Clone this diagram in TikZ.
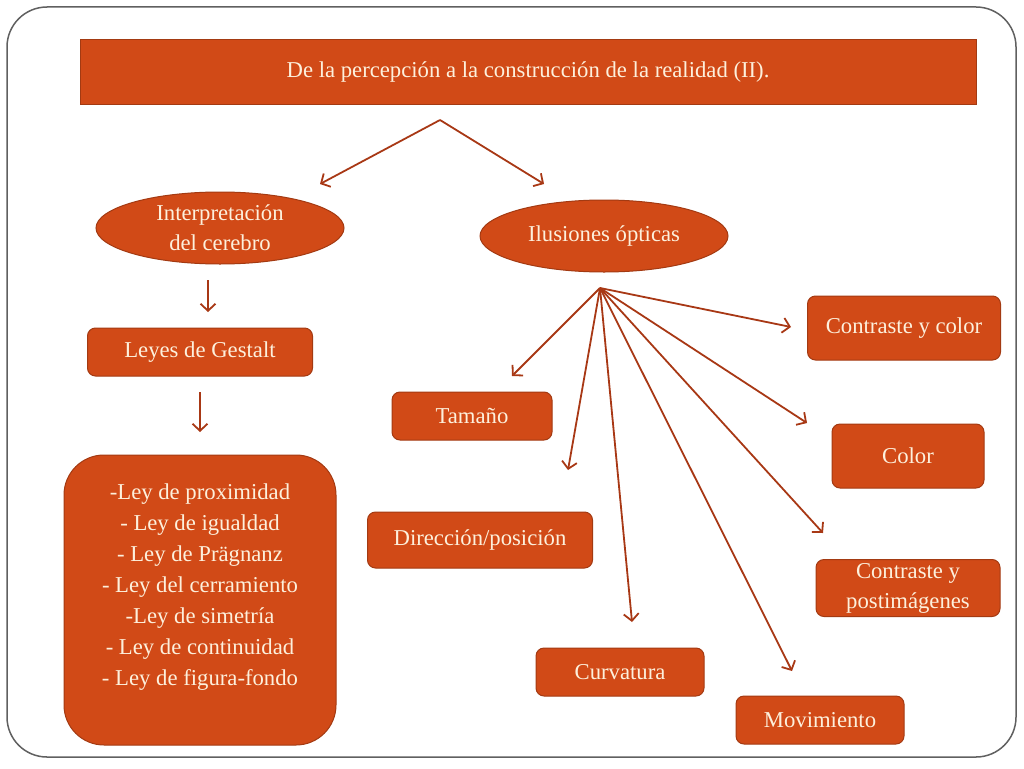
\documentclass[tikz,border=0pt]{standalone}
\usepackage{fontspec}
\setmainfont{Liberation Serif}
\usetikzlibrary{arrows.meta,shapes.geometric}
\definecolor{boxfill}{HTML}{D14A17}
\definecolor{boxline}{HTML}{A33A12}
\definecolor{boxtext}{HTML}{FDF0DC}
\definecolor{arrowcol}{HTML}{A83815}
\definecolor{framecol}{HTML}{606060}
\begin{document}
\begin{tikzpicture}[x=1pt,y=-1pt,
  txt/.style={text=boxtext,font=\fontsize{22.7}{30}\selectfont,align=center,inner sep=0pt},
  rbox/.style={txt,draw=boxline,fill=boxfill,line width=1pt,rounded corners=8pt},
  ebox/.style={txt,ellipse,draw=boxline,fill=boxfill,line width=1pt},
  arr/.style={draw=arrowcol,line width=1.8pt,-{Straight Barb[length=7pt,width=15pt,line width=1.8pt]}}]
\useasboundingbox (0,0) rectangle (1024,768);
\draw[framecol,line width=1.5pt,rounded corners=40pt] (7,7) rectangle (1016,757);
% title
\node[txt,draw=boxline,fill=boxfill,line width=1pt,minimum width=896pt,minimum height=64pt] (title) at (528,72) {\raisebox{-2pt}{De la percepción a la construcción de la realidad (II).}};
% ellipses
\node[ebox,minimum width=248pt,minimum height=72pt] (interp) at (220,228) {Interpretación\\del cerebro};
\node[ebox,minimum width=248pt,minimum height=72pt] (ilus) at (604,236) {\raisebox{-2pt}{Ilusiones ópticas}};
% left column
\node[rbox,minimum width=225pt,minimum height=48pt] (leyes) at (200,352) {\raisebox{-2pt}{Leyes de Gestalt}};
\node[rbox,rounded corners=40pt,minimum width=272pt,minimum height=290pt] (lista) at (200,600) {};
\node[txt,font=\fontsize{22.7}{31}\selectfont] (listatxt) at (200,587) {-Ley de proximidad\\- Ley de igualdad\\- Ley de Prägnanz\\- Ley del cerramiento\\-Ley de simetría\\- Ley de continuidad\\- Ley de figura-fondo};
% right side boxes
\node[rbox,minimum width=160pt,minimum height=48pt] (tam) at (472,416) {\raisebox{-2pt}{Tamaño}};
\node[rbox,minimum width=225pt,minimum height=56pt] (dir) at (480,540) {\raisebox{-2pt}{Dirección/posición}};
\node[rbox,minimum width=168pt,minimum height=48pt] (curv) at (620,672) {\raisebox{-2pt}{Curvatura}};
\node[rbox,minimum width=168pt,minimum height=48pt] (mov) at (820,720) {\raisebox{-2pt}{Movimiento}};
\node[rbox,minimum width=184pt,minimum height=57pt] (post) at (908,588) {Contraste y\\postimágenes};
\node[rbox,minimum width=152pt,minimum height=64pt] (col) at (908,456) {\raisebox{-2pt}{Color}};
\node[rbox,minimum width=193pt,minimum height=64pt] (cyc) at (904,328) {\raisebox{-2pt}{Contraste y color}};
% connector coordinates
\coordinate (topsrc) at (440,120);
\coordinate (t1) at (320,184);
\coordinate (t2) at (544,184);
\coordinate (i1) at (208,280);
\coordinate (i2) at (208,312);
\coordinate (l1) at (200,392);
\coordinate (l2) at (200,432);
\coordinate (hub) at (600,288);
\coordinate (htam) at (512,376);
\coordinate (hdir) at (568,470);
\coordinate (hcurv) at (632,622);
\coordinate (hmov) at (792,671);
\coordinate (hpost) at (823,533);
\coordinate (hcol) at (807,423);
\coordinate (hcyc) at (791,327);
% connectors
\draw[arr] (topsrc) -- (t1);
\draw[arr] (topsrc) -- (t2);
\draw[arr] (i1) -- (i2);
\draw[arr] (l1) -- (l2);
\draw[arr] (hub) -- (htam);
\draw[arr] (hub) -- (hdir);
\draw[arr] (hub) -- (hcurv);
\draw[arr] (hub) -- (hmov);
\draw[arr] (hub) -- (hpost);
\draw[arr] (hub) -- (hcol);
\draw[arr] (hub) -- (hcyc);
\end{tikzpicture}
\end{document}
